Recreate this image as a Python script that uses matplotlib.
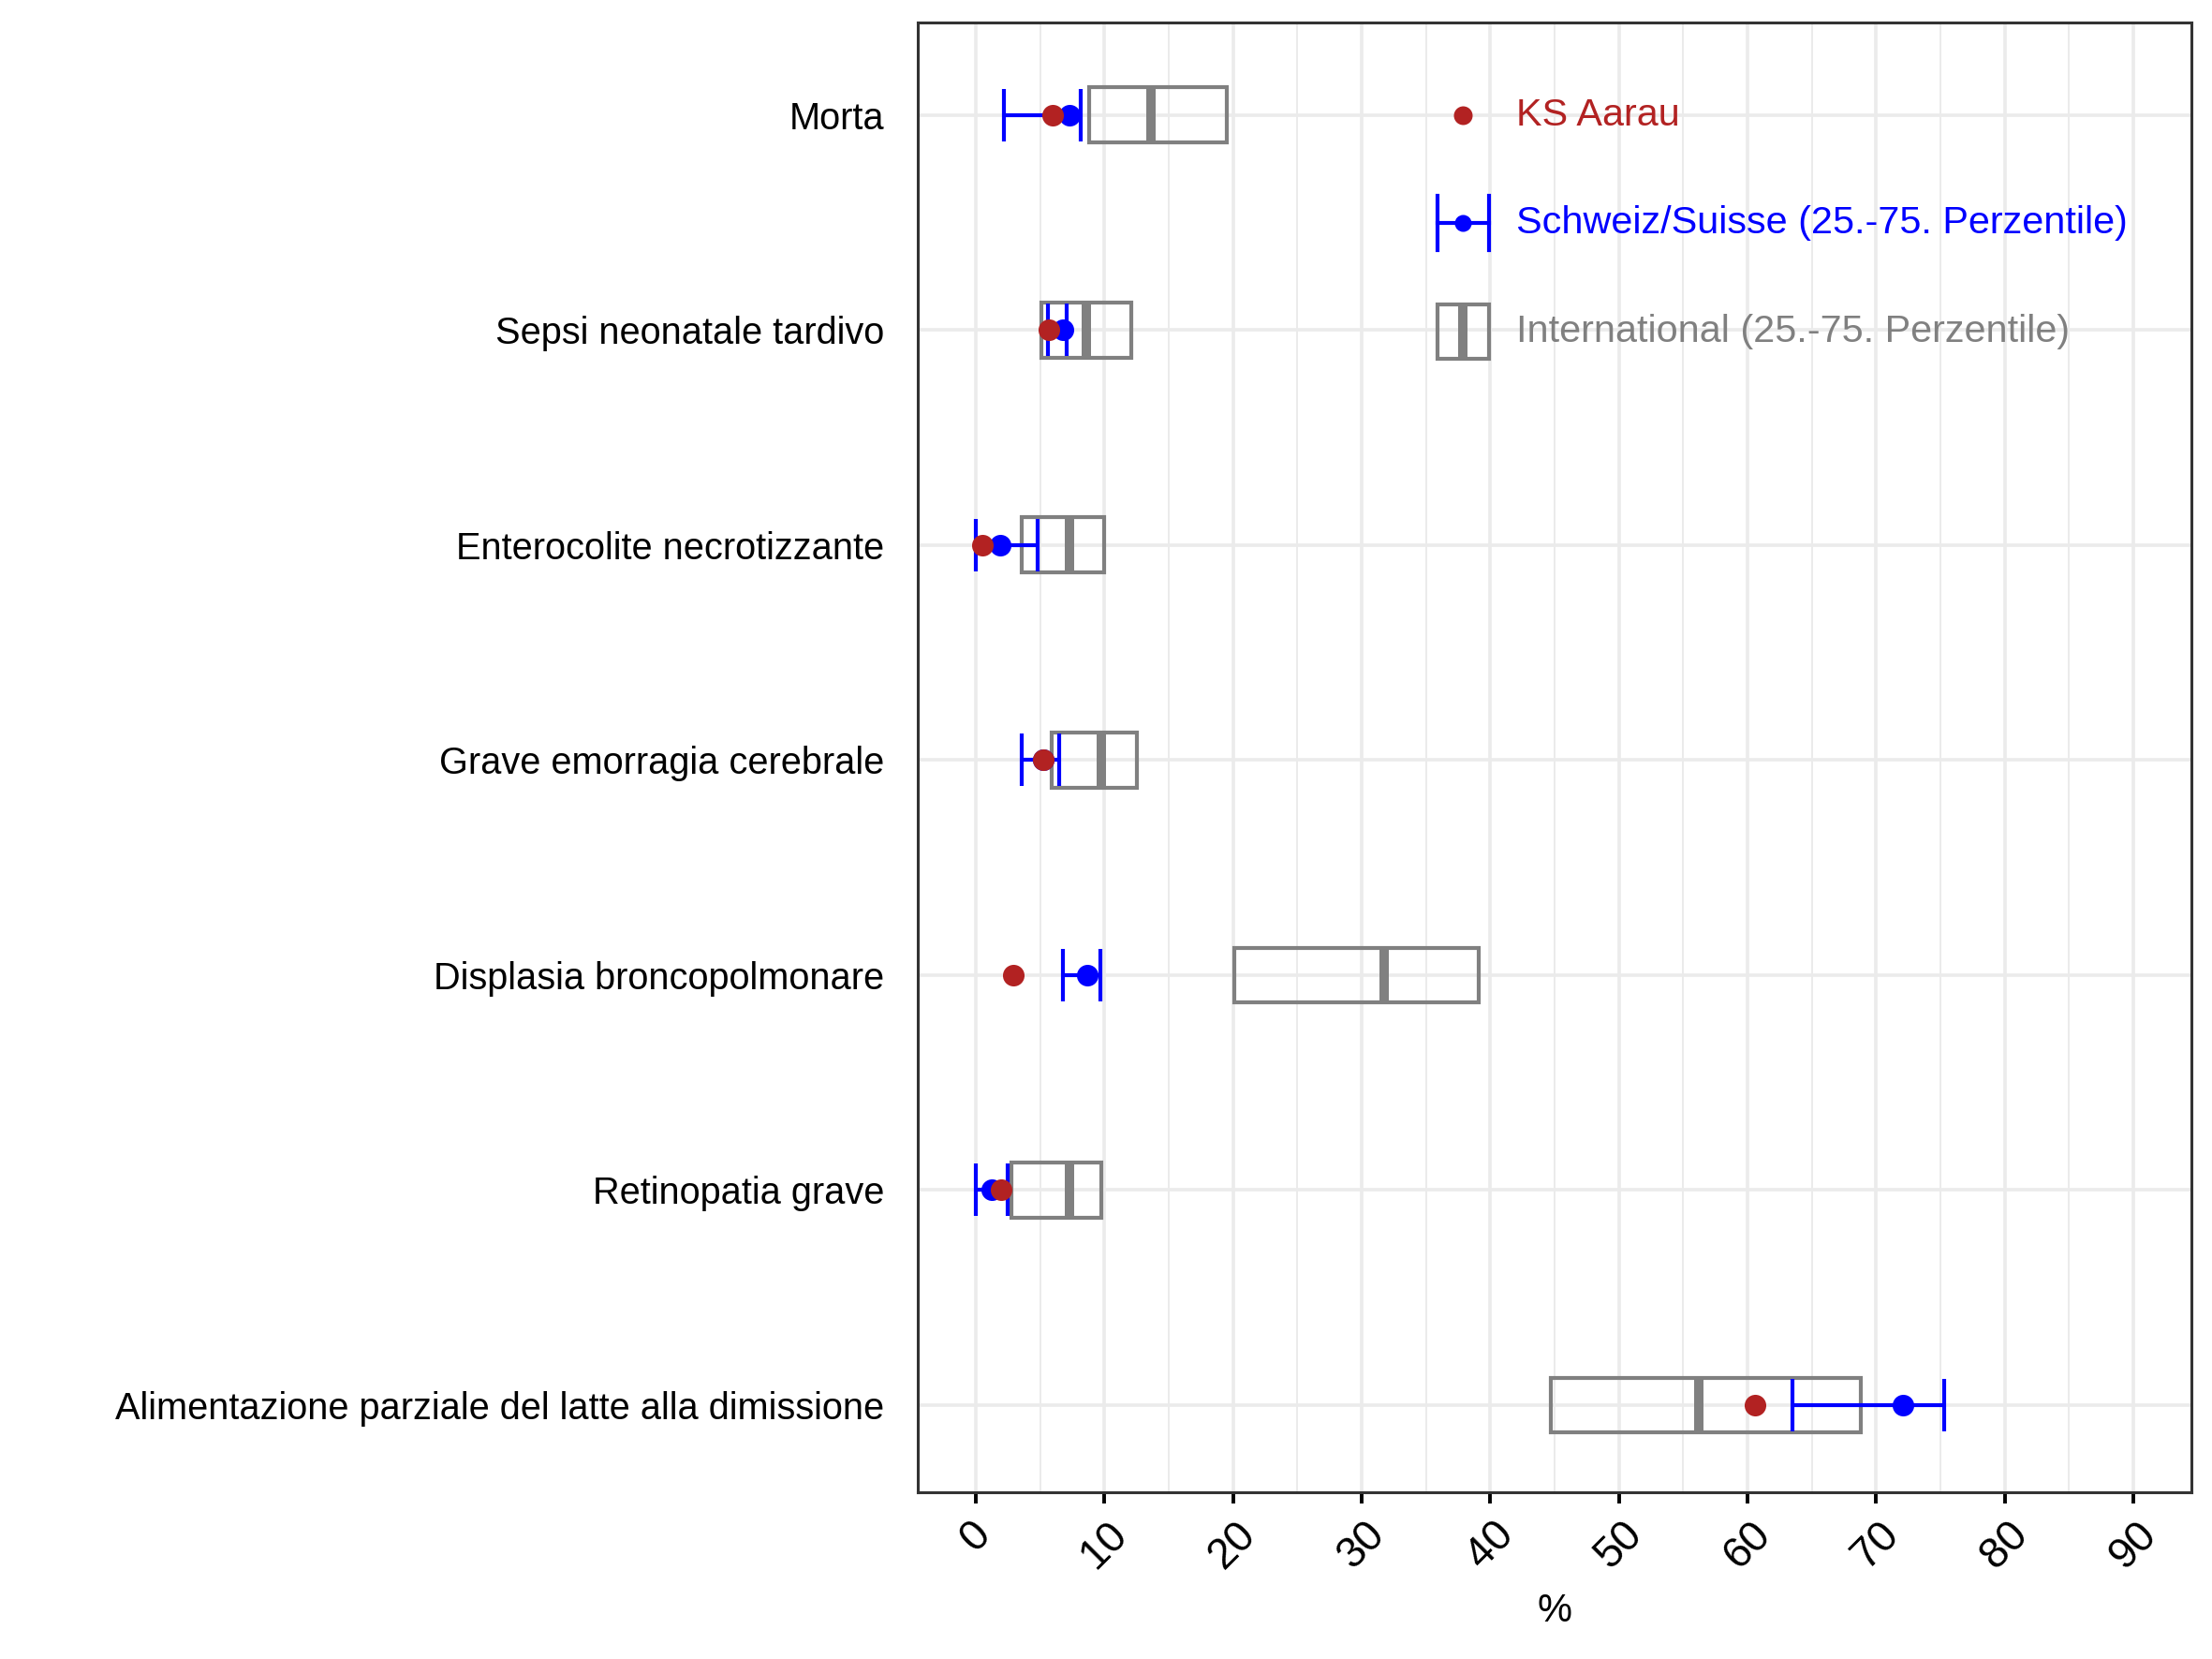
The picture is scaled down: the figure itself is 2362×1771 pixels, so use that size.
import matplotlib.pyplot as plt
import numpy as np
from matplotlib.patches import Rectangle
from matplotlib.ticker import MultipleLocator

plt.rcParams['font.family'] = ['Liberation Sans', 'DejaVu Sans']

# Indicatori (dall'alto verso il basso)
categorie = ["Morta",
             "Sepsi neonatale tardivo",
             "Enterocolite necrotizzante",
             "Grave emorragia cerebrale",
             "Displasia broncopolmonare",
             "Retinopatia grave",
             "Alimentazione parziale del latte alla dimissione"]

# KS Aarau (%)
ks_aarau = [6.0, 5.7, 0.5, 5.26, 2.95, 2.0, 60.6]

# Schweiz/Suisse : mediana e 25.-75. percentile
ch_med = [7.3, 6.75, 1.9, 5.26, 8.65, 1.25, 72.05]
ch_q25 = [2.2, 5.6, 0.0, 3.56, 6.75, 0.0, 63.5]
ch_q75 = [8.2, 7.05, 4.8, 6.47, 9.7, 2.5, 75.3]

# International : mediana e 25.-75. percentile
int_q25 = [8.8, 5.1, 3.55, 5.91, 20.1, 2.8, 44.7]
int_med = [13.6, 8.6, 7.3, 9.8, 31.75, 7.3, 56.2]
int_q75 = [19.5, 12.1, 9.97, 12.5, 39.1, 9.8, 68.8]

rosso = '#B22222'
blu = '#0000FF'
grigio = '#808080'

fig = plt.figure(figsize=(2362/200, 1771/200), dpi=200)
ax = fig.add_axes([980/2362, 178/1771, 1360/2362, 1569/1771])

y = np.arange(1, len(categorie) + 1)
h_box = 0.256

# Boxes internazionali
for yi, q1, med, q3 in zip(y, int_q25, int_med, int_q75):
    ax.add_patch(Rectangle((q1, yi - h_box/2), q3 - q1, h_box, fill=False,
                           edgecolor=grigio, linewidth=1.5, zorder=3))
    ax.plot([med, med], [yi - h_box/2, yi + h_box/2], color=grigio,
            linewidth=3.6, solid_capstyle='butt', zorder=3)

# Schweiz
ch_med = np.array(ch_med)
xerr = [ch_med - np.array(ch_q25), np.array(ch_q75) - ch_med]
ax.errorbar(ch_med, y, xerr=xerr, fmt='none', ecolor=blu, elinewidth=1.5,
            capsize=10, capthick=1.5, zorder=4)
ax.plot(ch_med, y, 'o', color=blu, markersize=8.3, markeredgewidth=0, zorder=5)

# KS Aarau
ax.plot(ks_aarau, y, 'o', color=rosso, markersize=8.3, markeredgewidth=0, zorder=6)

ax.set_xlim(-4.5, 94.5)
ax.set_ylim(7.405, 0.57)
ax.set_yticks(y)
ax.set_yticklabels(categorie, fontsize=14.3, color='black')
ax.xaxis.set_major_locator(MultipleLocator(10))
ax.xaxis.set_minor_locator(MultipleLocator(5))
ax.tick_params(axis='y', length=0, pad=13)
ax.tick_params(axis='x', which='major', length=4.3, width=1.4, color='black', pad=4)
ax.tick_params(axis='x', which='minor', length=0)
for lab in ax.get_xticklabels():
    lab.set_rotation(45)
    lab.set_fontsize(16.5)
    lab.set_ha('center')
ax.set_xlabel('%', fontsize=15, labelpad=6)

ax.grid(True, which='major', color='#EBEBEB', linewidth=1.3, zorder=0)
ax.grid(True, which='minor', axis='x', color='#EBEBEB', linewidth=0.7, zorder=0)
ax.set_axisbelow(True)
for s in ax.spines.values():
    s.set_color('#333333')
    s.set_linewidth(1.1)

# Legenda
tr = ax.transAxes
lx = 0.4283
tx = 0.4700
ly = [0.9369, 0.8636, 0.7897]
ax.plot([lx], [ly[0]], 'o', color=rosso, markersize=7.2, markeredgewidth=0,
        transform=tr, zorder=6)
ax.text(tx, ly[0], 'KS Aarau', color=rosso, fontsize=14.9, va='center',
        transform=tr)
cw = 0.0199
ch = 0.0182
ax.plot([lx - cw, lx + cw], [ly[1], ly[1]], color=blu, linewidth=1.5, transform=tr)
ax.plot([lx - cw, lx - cw], [ly[1] - ch, ly[1] + ch], color=blu, linewidth=1.5, transform=tr)
ax.plot([lx + cw, lx + cw], [ly[1] - ch, ly[1] + ch], color=blu, linewidth=1.5, transform=tr)
ax.plot([lx], [ly[1]], 'o', color=blu, markersize=6.5, markeredgewidth=0, transform=tr)
ax.text(tx, ly[1], 'Schweiz/Suisse (25.-75. Perzentile)', color=blu,
        fontsize=14.9, va='center', transform=tr)
ax.add_patch(Rectangle((lx - cw, ly[2] - ch), 2*cw, 2*ch, fill=False,
                       edgecolor=grigio, linewidth=1.5, transform=tr))
ax.plot([lx, lx], [ly[2] - ch, ly[2] + ch], color=grigio, linewidth=3.6,
        solid_capstyle='butt', transform=tr)
ax.text(tx, ly[2], 'International (25.-75. Perzentile)', color=grigio,
        fontsize=14.9, va='center', transform=tr)

fig.savefig('out.png', dpi=200)
